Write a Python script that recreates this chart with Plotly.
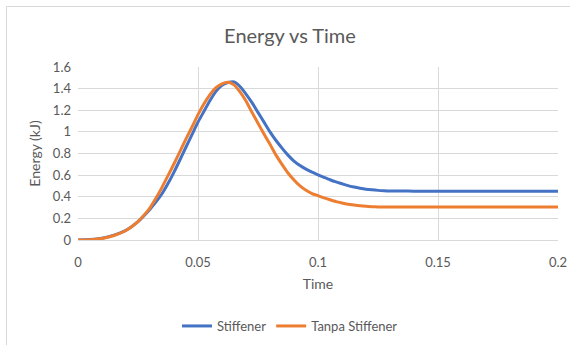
import plotly.graph_objects as go

# Time samples (s)
time = [0.000, 0.005, 0.010, 0.015, 0.020, 0.025, 0.0275, 0.030, 0.0325, 0.035,
        0.0375, 0.040, 0.0425, 0.045, 0.0475, 0.050, 0.0525, 0.055, 0.0575, 0.060,
        0.0625, 0.065, 0.0675, 0.070, 0.0725, 0.075, 0.0775, 0.080, 0.0825, 0.085,
        0.0875, 0.090, 0.0925, 0.095, 0.0975, 0.100, 0.1025, 0.105, 0.1075, 0.110,
        0.1125, 0.115, 0.1175, 0.120, 0.1225, 0.125, 0.1275, 0.130, 0.135, 0.140,
        0.150, 0.160, 0.170, 0.180, 0.190, 0.200]

# Energy (kJ) with stiffener
energy_stiffener = [0.000, 0.004, 0.016, 0.045, 0.090, 0.170, 0.225, 0.285, 0.352, 0.428,
                    0.522, 0.628, 0.742, 0.860, 0.975, 1.090, 1.190, 1.290, 1.375, 1.430,
                    1.456, 1.462, 1.420, 1.350, 1.270, 1.180, 1.090, 1.000, 0.920, 0.850,
                    0.785, 0.730, 0.688, 0.655, 0.627, 0.603, 0.580, 0.557, 0.537, 0.520,
                    0.503, 0.490, 0.479, 0.470, 0.464, 0.459, 0.456, 0.454, 0.453, 0.452,
                    0.452, 0.452, 0.452, 0.452, 0.452, 0.452]

# Energy (kJ) without stiffener
energy_tanpa = [0.000, 0.003, 0.014, 0.042, 0.088, 0.170, 0.230, 0.298, 0.388, 0.487,
                0.595, 0.705, 0.820, 0.935, 1.045, 1.160, 1.260, 1.345, 1.410, 1.445,
                1.458, 1.435, 1.370, 1.285, 1.180, 1.080, 0.980, 0.885, 0.785, 0.700,
                0.620, 0.555, 0.500, 0.460, 0.430, 0.410, 0.390, 0.372, 0.355, 0.342,
                0.331, 0.323, 0.316, 0.311, 0.308, 0.306, 0.305, 0.305, 0.305, 0.305,
                0.305, 0.305, 0.305, 0.305, 0.305, 0.305]

series_names = ["Stiffener", "Tanpa Stiffener"]
series_colors = ["#4472C4", "#ED7D31"]

x_ticks = [0, 0.05, 0.1, 0.15, 0.2]
x_tick_labels = ["0", "0.05", "0.1", "0.15", "0.2"]
y_ticks = [0, 0.2, 0.4, 0.6, 0.8, 1.0, 1.2, 1.4, 1.6]
y_tick_labels = ["0", "0.2", "0.4", "0.6", "0.8", "1", "1.2", "1.4", "1.6"]

FONT = "Lato"
TEXT = "#595959"
GRID = "#D9D9D9"

fig = go.Figure()
for name, values, color in zip(series_names, [energy_stiffener, energy_tanpa], series_colors):
    fig.add_trace(go.Scatter(
        x=time, y=values, name=name, mode="lines",
        line=dict(color=color, width=3, shape="spline", smoothing=0.6),
    ))

# plot area: x 78..558 px, y 67..240 px
L, R, T, B = 78, 12, 67, 105
W, H = 570 - L - R, 345 - T - B


def px_x(p):
    return (p - L) / W


def px_y(p):
    return (345 - B - p) / H


fig.update_layout(
    width=570, height=345,
    margin=dict(l=L, r=R, t=T, b=B, autoexpand=False),
    paper_bgcolor="white", plot_bgcolor="white",
    font=dict(family=FONT, color=TEXT, size=13),
    title=dict(text="Energy vs Time", xref="container", x=290 / 570, xanchor="center",
               yref="container", y=1 - 36 / 345, yanchor="middle",
               font=dict(family=FONT, size=20, color=TEXT)),
    showlegend=True,
    legend=dict(orientation="h", x=px_x(290), xanchor="center",
                y=px_y(326), yanchor="middle",
                font=dict(family=FONT, size=13, color=TEXT),
                bgcolor="rgba(0,0,0,0)", itemwidth=30),
    xaxis=dict(range=[0, 0.2], tickvals=x_ticks, ticktext=x_tick_labels,
               showgrid=True, gridcolor=GRID, gridwidth=1,
               showline=True, linecolor=GRID, linewidth=1, mirror=False,
               zeroline=False, ticks="", ticklabelstandoff=10, automargin=False,
               tickfont=dict(family=FONT, size=13, color=TEXT),
               title=dict(text="Time", standoff=10,
                          font=dict(family=FONT, size=14, color=TEXT))),
    yaxis=dict(range=[0, 1.6], tickvals=y_ticks, ticktext=y_tick_labels,
               showgrid=True, gridcolor=GRID, gridwidth=1,
               zeroline=False, showline=False, ticks="", ticklabelstandoff=6,
               automargin=False,
               tickfont=dict(family=FONT, size=13, color=TEXT),
               title=dict(text="Energy (kJ)", standoff=8,
                          font=dict(family=FONT, size=14, color=TEXT))),
)

# chart-area frame (left and top edges visible)
fig.add_shape(type="path", xref="paper", yref="paper",
              path=f"M {px_x(6.5)} {px_y(350)} L {px_x(6.5)} {px_y(6.5)} L {px_x(580)} {px_y(6.5)}",
              line=dict(color=GRID, width=1), layer="below")

fig.write_html("out.html")
